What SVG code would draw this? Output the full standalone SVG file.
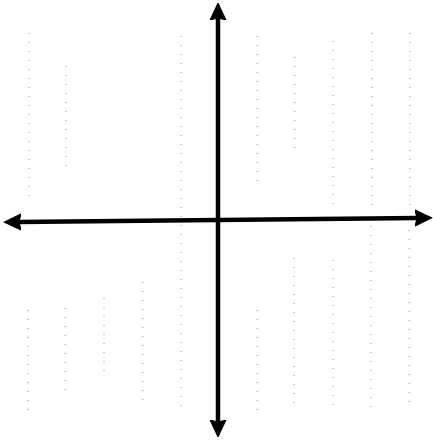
<svg xmlns="http://www.w3.org/2000/svg" width="433" height="441" viewBox="0 0 433 441">
<style>
.grid line{stroke:#8a8a8a;stroke-width:1;stroke-dasharray:1 8}
.axis{stroke:#000;stroke-width:4.5;fill:none}
</style>
<defs>
<marker id="ah" viewBox="0 0 18 18" refX="3" refY="9" markerWidth="18" markerHeight="18" markerUnits="userSpaceOnUse" orient="auto-start-reverse">
<path d="M0,1 L17,9 L0,17 L2,9 Z" fill="#000" stroke="#000" stroke-width="1" stroke-linejoin="round"/>
</marker>
</defs>
<rect width="433" height="441" fill="#fff"/>
<g class="grid">
<line x1="29" y1="33" x2="29" y2="198"/>
<line x1="28" y1="310" x2="28" y2="410"/>
<line x1="66" y1="66" x2="66" y2="168"/>
<line x1="65" y1="308" x2="65" y2="396"/>
<line x1="104" y1="298" x2="104" y2="376"/>
<line x1="143" y1="282" x2="143" y2="405"/>
<line x1="181" y1="36" x2="181" y2="410"/>
<line x1="257" y1="36" x2="257" y2="182"/>
<line x1="257" y1="310" x2="257" y2="410"/>
<line x1="295" y1="57" x2="295" y2="153"/>
<line x1="294" y1="258" x2="294" y2="405"/>
<line x1="333" y1="41" x2="333" y2="208"/>
<line x1="333" y1="260" x2="333" y2="410"/>
<line x1="372" y1="33" x2="372" y2="208"/>
<line x1="371" y1="226" x2="371" y2="410"/>
<line x1="410" y1="33" x2="410" y2="210"/>
<line x1="409" y1="230" x2="409" y2="410"/>
</g>
<g id="connectors">
<line id="x-axis" class="axis" x1="18" y1="222" x2="418" y2="218" marker-start="url(#ah)" marker-end="url(#ah)"/>
<line id="y-axis" class="axis" x1="218" y1="17" x2="218" y2="423" marker-start="url(#ah)" marker-end="url(#ah)"/>
</g>
</svg>
